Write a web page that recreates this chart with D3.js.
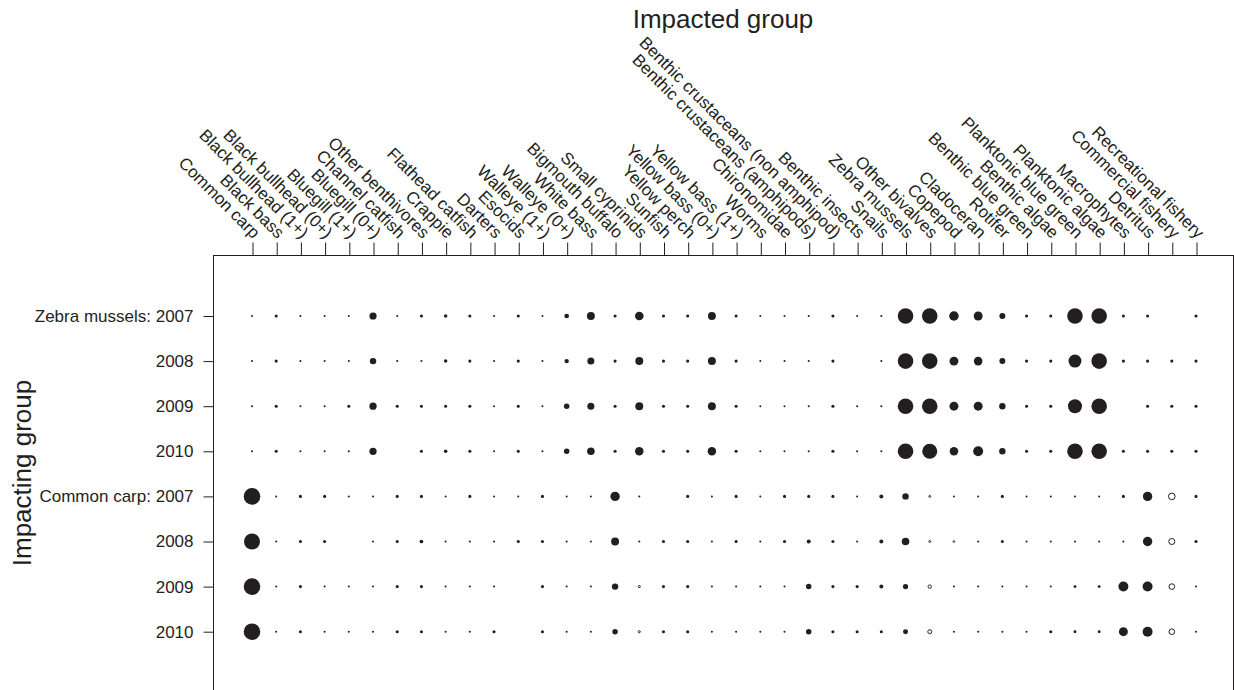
<!DOCTYPE html>
<html>
<head>
<meta charset="utf-8">
<script src="https://cdn.jsdelivr.net/npm/d3@7"></script>
<style>
  body { margin: 0; background: #fff; }
  svg { display: block; }
  text { font-family: "Liberation Sans", Arial, Helvetica, sans-serif; fill: #231f20; }
</style>
</head>
<body>
<svg id="chart" width="1234" height="690"></svg>
<script>
// Impacted groups (columns)
const impacted = [
  "Common carp", "Black bass", "Black bullhead (1+)", "Black bullhead (0+)",
  "Bluegill (1+)", "Bluegill (0+)", "Channel catfish", "Other benthivores",
  "Crappie", "Flathead catfish", "Darters", "Esocids", "Walleye (1+)",
  "Walleye (0+)", "White bass", "Bigmouth buffalo", "Small cyprinids",
  "Sunfish", "Yellow perch", "Yellow bass (0+)", "Yellow bass (1+)", "Worms",
  "Chironomidae", "Benthic crustaceans (amphipods)",
  "Benthic crustaceans (non amphipod)", "Benthic insects", "Snails",
  "Zebra mussels", "Other bivalves", "Copepod", "Cladoceran", "Rotifer",
  "Benthic blue green", "Benthic algae", "Planktonic blue green",
  "Planktonic algae", "Macrophytes", "Detritus", "Commercial fishery",
  "Recreational fishery"
];

// Impacting group / year (rows)
const rowKeys = ["zm2007", "zm2008", "zm2009", "zm2010", "cc2007", "cc2008", "cc2009", "cc2010"];
const rowLabels = ["Zebra mussels: 2007", "2008", "2009", "2010",
                   "Common carp: 2007", "2008", "2009", "2010"];

// Relative impact magnitude per impacted group; negative = opposite sign (open symbol), null = not estimated
const zm2007 = [0.015, 0.035, 0.015, 0.015, 0.015, 0.19, 0.015, 0.035, 0.045, 0.035, 0.015, 0.035, 0.015,
  0.08, 0.23, 0.035, 0.27, 0.035, 0.035, 0.23, 0.035, 0.015, 0.015, 0.015, 0.035, 0.015, 0.015,
  0.88, 0.88, 0.33, 0.29, 0.13, 0.035, 0.035, 0.88, 0.88, 0.035, 0.035, null, 0.035];
const zm2008 = [0.015, 0.035, 0.015, 0.015, 0.015, 0.15, 0.015, 0.015, 0.045, 0.035, 0.015, 0.035, 0.015,
  0.07, 0.18, 0.035, 0.23, 0.035, 0.035, 0.23, 0.035, 0.015, 0.015, 0.015, 0.035, null, 0.015,
  0.88, 0.88, 0.29, 0.27, 0.13, 0.035, 0.035, 0.61, 0.88, 0.035, 0.035, 0.035, 0.035];
const zm2009 = [0.015, 0.035, 0.015, 0.015, 0.035, 0.19, 0.035, 0.035, 0.035, 0.035, 0.015, 0.035, 0.015,
  0.11, 0.18, 0.035, 0.23, 0.035, 0.035, 0.23, 0.035, 0.015, 0.015, 0.015, 0.035, 0.015, 0.015,
  0.88, 0.88, 0.29, 0.29, 0.15, 0.035, 0.035, 0.71, 0.88, null, 0.035, 0.035, 0.035];
const zm2010 = [0.015, 0.035, 0.015, 0.015, 0.015, 0.19, null, 0.035, 0.045, 0.035, 0.015, 0.035, 0.015,
  0.11, 0.21, 0.035, 0.26, 0.035, 0.035, 0.26, 0.035, 0.015, 0.015, 0.015, 0.035, 0.015, 0.015,
  0.88, 0.82, 0.26, 0.36, 0.15, 0.035, 0.035, 0.88, 0.88, 0.035, 0.035, 0.035, 0.035];
const cc2007 = [1.0, 0.015, 0.035, 0.035, 0.015, 0.015, 0.035, 0.035, 0.015, 0.035, 0.015, 0.015, 0.035,
  0.015, 0.015, 0.32, 0.015, null, 0.035, 0.015, 0.035, 0.015, 0.035, 0.035, 0.035, 0.015, 0.058,
  0.15, -0.03, 0.015, 0.015, 0.035, 0.015, 0.015, 0.015, 0.015, 0.035, 0.32, -0.21, 0.035];
const cc2008 = [0.93, 0.015, 0.035, 0.035, null, 0.015, 0.035, 0.05, 0.015, 0.015, 0.015, 0.035, 0.035,
  0.015, 0.015, 0.23, 0.015, 0.035, 0.035, 0.015, 0.035, 0.015, 0.035, 0.058, 0.035, 0.015, 0.058,
  0.21, -0.03, -0.025, 0.015, 0.035, 0.015, 0.015, 0.015, 0.015, 0.015, 0.32, -0.18, 0.035];
const cc2009 = [1.0, 0.015, 0.035, 0.015, 0.015, 0.015, 0.035, 0.035, 0.015, 0.015, 0.015, null, 0.035,
  0.015, 0.015, 0.15, -0.035, 0.035, 0.035, 0.015, 0.015, 0.015, 0.015, 0.11, 0.035, 0.035, 0.058,
  0.10, -0.07, 0.015, 0.015, 0.015, 0.015, 0.015, 0.03, 0.03, 0.36, 0.36, -0.16, 0.015];
const cc2010 = [1.0, 0.015, 0.035, 0.015, 0.015, 0.015, 0.035, 0.035, 0.015, 0.015, 0.035, null, 0.035,
  0.015, 0.015, 0.11, -0.035, 0.035, 0.035, 0.015, 0.015, 0.015, 0.015, 0.11, 0.035, 0.035, 0.035,
  0.09, -0.09, 0.015, 0.015, 0.015, 0.015, 0.035, 0.03, 0.03, 0.29, 0.36, -0.16, 0.015];

const rowValues = [zm2007, zm2008, zm2009, zm2010, cc2007, cc2008, cc2009, cc2010];

const ink = "#231f20";
const svg = d3.select("#chart");

// Plot frame
const frame = { left: 213, top: 255, right: 1233, bottom: 693 };

const x = d3.scalePoint().domain(impacted).range([252, 1196]);
const y = d3.scalePoint().domain(rowKeys).range([316, 631.7]);
const r = d3.scaleSqrt().domain([0, 1]).range([0, 8.3]);

svg.append("rect")
  .attr("x", frame.left + 0.5).attr("y", frame.top + 0.5)
  .attr("width", frame.right - frame.left).attr("height", frame.bottom - frame.top)
  .attr("fill", "none").attr("stroke", ink).attr("stroke-width", 1);

// Top axis: impacted groups, rotated labels
const xAxis = svg.append("g")
  .attr("transform", `translate(0.5,${frame.top + 0.5})`)
  .call(d3.axisTop(x).tickSize(13).tickSizeOuter(0));
xAxis.select(".domain").remove();
xAxis.selectAll(".tick line").attr("stroke", ink);
xAxis.selectAll(".tick text")
  .attr("x", 0).attr("y", 0).attr("dy", 0)
  .attr("text-anchor", "end")
  .attr("transform", "translate(0,-16) rotate(45)")
  .style("font-size", "17px")
  .attr("fill", ink);

// Left axis: impacting group and year
const yAxis = svg.append("g")
  .attr("transform", `translate(${frame.left + 0.5},0)`)
  .call(d3.axisLeft(y).tickSize(10).tickPadding(10).tickSizeOuter(0)
    .tickFormat((d, i) => rowLabels[i]));
yAxis.select(".domain").remove();
yAxis.selectAll(".tick line").attr("stroke", ink);
yAxis.selectAll(".tick text").style("font-size", "17px").attr("fill", ink);

// Axis titles
svg.append("text")
  .attr("x", (frame.left + frame.right) / 2).attr("y", 28)
  .attr("text-anchor", "middle").style("font-size", "26px")
  .text("Impacted group");

svg.append("text")
  .attr("transform", `translate(31,${(frame.top + frame.bottom) / 2 - 1}) rotate(-90)`)
  .attr("text-anchor", "middle").style("font-size", "26px")
  .text("Impacting group");

// Bubbles
const cells = [];
rowKeys.forEach((key, ri) => {
  rowValues[ri].forEach((v, ci) => {
    if (v !== null) cells.push({ row: key, col: impacted[ci], value: v });
  });
});

svg.append("g").selectAll("circle")
  .data(cells)
  .join("circle")
  .attr("cx", d => x(d.col))
  .attr("cy", d => y(d.row))
  .attr("r", d => d.value < 0 ? Math.max(r(-d.value) - 0.5, 0.8) : r(d.value))
  .attr("fill", d => d.value < 0 ? "#fff" : ink)
  .attr("stroke", d => d.value < 0 ? ink : "none")
  .attr("stroke-width", 1);
</script>
</body>
</html>
